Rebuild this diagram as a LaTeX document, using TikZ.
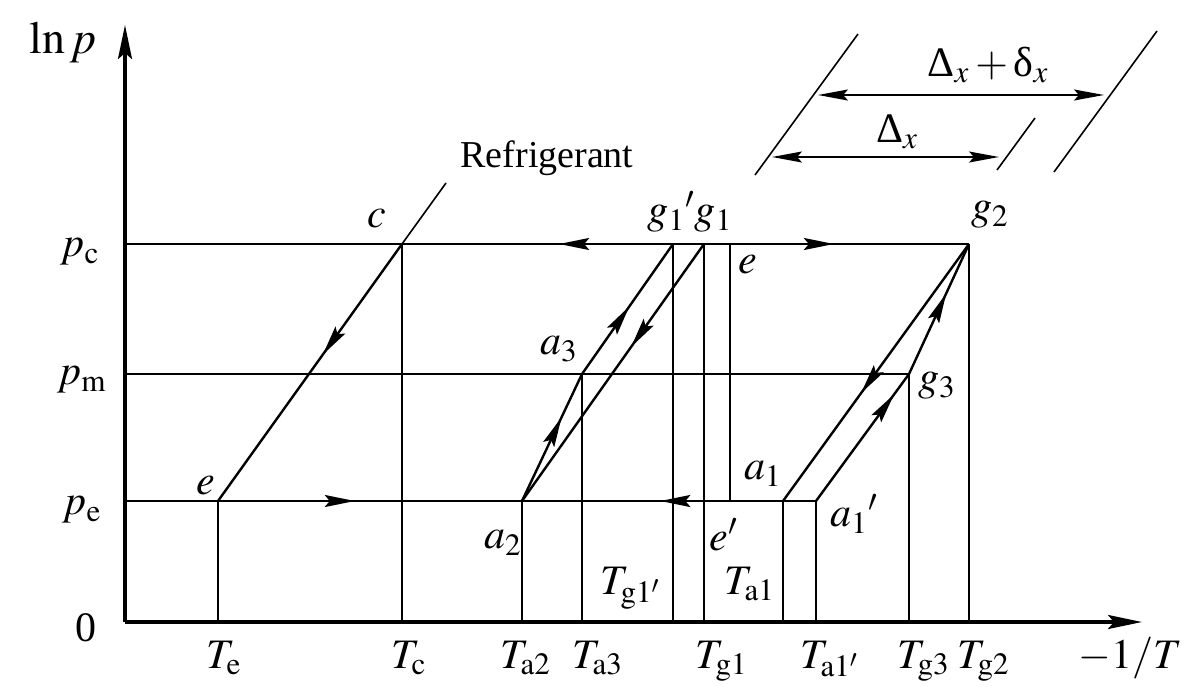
\documentclass[tikz,border=0pt]{standalone}
\usepackage{mathptmx}
\usepackage{fontspec}
\setmainfont{Liberation Serif}
\usetikzlibrary{arrows.meta,decorations.markings}
\tikzset{
  midtip/.tip={Stealth[length=15pt,width=6pt,inset=2.5pt]},
  axtip/.tip={Stealth[length=17pt,width=7pt,inset=3pt]},
  dimtip/.tip={Stealth[length=15pt,width=5.5pt,inset=2.5pt]},
  fwd/.style={postaction={decorate},decoration={markings,mark=at position #1 with {\arrow{midtip}}}},
  thinline/.style={line width=0.8pt},
  mainline/.style={line width=1.2pt},
  axisline/.style={line width=1.6pt},
  lbl/.style={font=\fontsize{21}{25}\selectfont, inner sep=0pt},
  txt/.style={font=\fontsize{19}{23}\selectfont, inner sep=0pt},
}
\begin{document}
\begin{tikzpicture}[x=0.5pt,y=-0.5pt]
\useasboundingbox (0,0) rectangle (1182,686);
% key points
\coordinate (O) at (125,622);
\coordinate (Ytip) at (125,25);
\coordinate (Xtip) at (1142,622);
\coordinate (Pc) at (125,244);
\coordinate (Pm) at (125,374);
\coordinate (Pe) at (125,501);
\coordinate (e) at (218,501);
\coordinate (c) at (402,244);
\coordinate (R) at (446,183);
\coordinate (a2) at (522,501);
\coordinate (a3) at (582,374);
\coordinate (g1p) at (673,244);
\coordinate (g1) at (704,244);
\coordinate (ee) at (730,244);
\coordinate (eep) at (730,501);
\coordinate (a1) at (783,501);
\coordinate (a1p) at (816,501);
\coordinate (g3) at (909,374);
\coordinate (g2) at (969,244);
% vertical projection lines
\foreach \p in {e,c,a2,a3,g1p,g1,a1,a1p,g3,g2}
  \draw[thinline] (\p) -- (\p |- O);
\draw[thinline] (ee) -- (eep);
% horizontal pressure lines
\draw[mainline] (Pc) -- (c);
\draw[mainline,fwd=0.42] (g1p) -- (c);
\draw[mainline] (g1p) -- (g1);
\draw[mainline,fwd=0.49] (g1) -- (g2);
\draw[thinline] (Pm) -- (g3);
\draw[mainline] (Pe) -- (e);
\draw[mainline,fwd=0.45] (e) -- (a2);
\draw[mainline,fwd=0.47] (a1) -- (a2);
\draw[mainline] (a1) -- (a1p);
% refrigerant line
\draw[mainline,fwd=0.43] (c) -- (e);
\draw[thinline] (c) -- (R);
% left solution circuit
\draw[mainline,fwd=0.40] (g1) -- (a2);
\draw[mainline,fwd=0.66] (a2) -- (a3);
\draw[mainline,fwd=0.52] (a3) -- (g1p);
% right solution circuit
\draw[mainline,fwd=0.58] (g2) -- (a1);
\draw[mainline,fwd=0.84] (a1p) -- (g3);
\draw[mainline,fwd=0.62] (g3) -- (g2);
% axes
\draw[axisline,-axtip] (O) -- (Ytip);
\draw[axisline,-axtip] (O) -- (Xtip);
% dimension marks
\coordinate (L1a) at (755,175); \coordinate (L1b) at (858,34);
\coordinate (L2a) at (1054,172); \coordinate (L2b) at (1157,31);
\coordinate (L3a) at (997,170); \coordinate (L3b) at (1035,118);
\draw[thinline] (L1a) -- (L1b);
\draw[thinline] (L2a) -- (L2b);
\draw[thinline] (L3a) -- (L3b);
\coordinate (D1a) at (818,95); \coordinate (D1b) at (1104,95);
\coordinate (D2a) at (772,157); \coordinate (D2b) at (999,157);
\draw[thinline,dimtip-dimtip] (D1a) -- (D1b);
\draw[thinline,dimtip-dimtip] (D2a) -- (D2b);
% labels
\node[lbl,font=\fontsize{23}{27}\selectfont] (lnp) at (63,42) {$\ln p$};
\node[lbl] (lpc) at (80,252) {$p_{\mathrm{c}}$};
\node[lbl] (lpm) at (82,380) {$p_{\mathrm{m}}$};
\node[lbl] (lpe) at (82,510) {$p_{\mathrm{e}}$};
\node[lbl] (l0) at (86,628) {0};
\node[lbl,anchor=base west] (lTe) at (206,668) {$T_{\mathrm{e}}$};
\node[lbl,anchor=base west] (lTc) at (391,668) {$T_{\mathrm{c}}$};
\node[lbl,anchor=base west] (lTa2) at (500,668) {$T_{\mathrm{a2}}$};
\node[lbl,anchor=base west] (lTa3) at (572,668) {$T_{\mathrm{a3}}$};
\node[lbl,anchor=base west] (lTg1) at (695,668) {$T_{\mathrm{g1}}$};
\node[lbl,anchor=base west] (lTa1p) at (800,668) {$T_{\mathrm{a1'}}$};
\node[lbl,anchor=base west] (lTg3) at (897,668) {$T_{\mathrm{g3}}$};
\node[lbl,anchor=base west] (lTg2) at (957,668) {$T_{\mathrm{g2}}$};
\node[lbl,anchor=base west] (lX) at (1078,668) {$-1/T$};
\node[lbl,anchor=base west] (lTg1p) at (600,594) {$T_{\mathrm{g1'}}$};
\node[lbl,anchor=base west] (lTa1) at (724,594) {$T_{\mathrm{a1}}$};
\node[lbl] (lc) at (377,219) {$c$};
\node[lbl] (le) at (206,486) {$e$};
\node[lbl] (la2) at (503,543) {$a_2$};
\node[lbl] (la3) at (559,349) {$a_3$};
\node[lbl] (lg1) at (690,212) {$g_1{}'g_1$};
\node[lbl] (leu) at (748,265) {$e$};
\node[lbl] (lep) at (724,535) {$e'$};
\node[lbl] (la1) at (763,474) {$a_1$};
\node[lbl] (la1p) at (854,514) {$a_1{}'$};
\node[lbl] (lg3) at (937,386) {$g_3$};
\node[lbl] (lg2) at (990,215) {$g_2$};
\node[txt] (lref) at (547,158) {Refrigerant};
\node[lbl] (ldd) at (988,65) {$\mbox{Δ}_x+\mbox{δ}_x$};
\node[lbl] (ld) at (897,132) {$\mbox{Δ}_x$};
\end{tikzpicture}
\end{document}
